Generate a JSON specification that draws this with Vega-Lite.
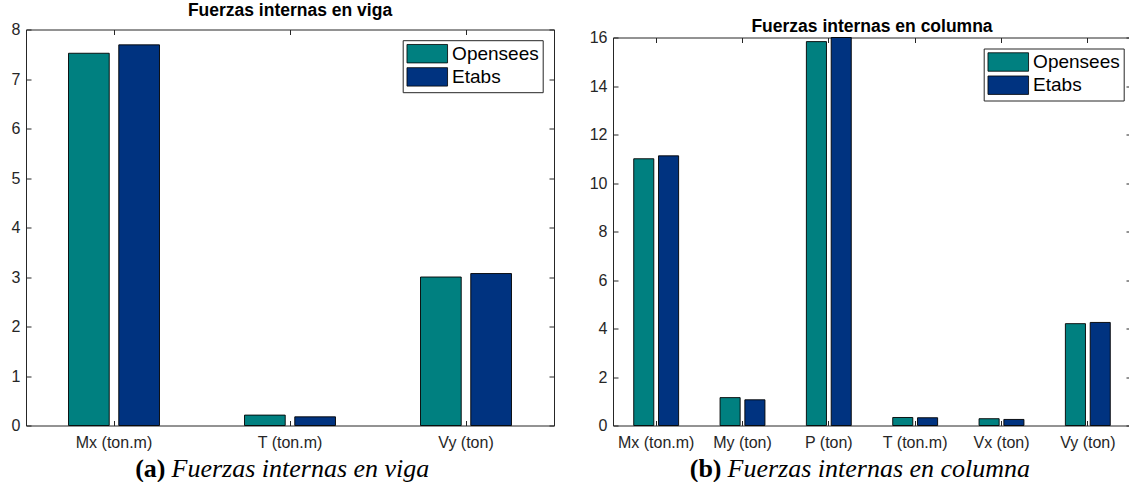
{
  "$schema": "https://vega.github.io/schema/vega-lite/v6.json",
  "background": "white",
  "padding": {"left": 11, "top": 1.5, "right": 0, "bottom": 0},
  "datasets": {
    "viga": [
      {"fuerza": "Mx (ton.m)", "serie": "Opensees", "valor": 7.52},
      {"fuerza": "Mx (ton.m)", "serie": "Etabs", "valor": 7.69},
      {"fuerza": "T (ton.m)", "serie": "Opensees", "valor": 0.21},
      {"fuerza": "T (ton.m)", "serie": "Etabs", "valor": 0.175},
      {"fuerza": "Vy (ton)", "serie": "Opensees", "valor": 3.0},
      {"fuerza": "Vy (ton)", "serie": "Etabs", "valor": 3.07}
    ],
    "columna": [
      {"fuerza": "Mx (ton.m)", "serie": "Opensees", "valor": 11.0},
      {"fuerza": "Mx (ton.m)", "serie": "Etabs", "valor": 11.12},
      {"fuerza": "My (ton)", "serie": "Opensees", "valor": 1.15},
      {"fuerza": "My (ton)", "serie": "Etabs", "valor": 1.06},
      {"fuerza": "P (ton)", "serie": "Opensees", "valor": 15.83},
      {"fuerza": "P (ton)", "serie": "Etabs", "valor": 16.0},
      {"fuerza": "T (ton.m)", "serie": "Opensees", "valor": 0.33},
      {"fuerza": "T (ton.m)", "serie": "Etabs", "valor": 0.32},
      {"fuerza": "Vx (ton)", "serie": "Opensees", "valor": 0.28},
      {"fuerza": "Vx (ton)", "serie": "Etabs", "valor": 0.25},
      {"fuerza": "Vy (ton)", "serie": "Opensees", "valor": 4.2},
      {"fuerza": "Vy (ton)", "serie": "Etabs", "valor": 4.25}
    ]
  },
  "config": {
    "view": {"stroke": null},
    "font": "Liberation Sans",
    "axis": {
      "labelFont": "Liberation Sans", "labelFontSize": 16, "labelColor": "#262626",
      "domainColor": "#262626", "domainWidth": 1, "tickColor": "#262626", "tickWidth": 1,
      "grid": false, "labelFlush": false, "labelOverlap": false
    },
    "title": {
      "font": "Liberation Sans", "fontSize": 17.5, "fontWeight": "bold", "color": "black",
      "anchor": "middle", "frame": "group", "baseline": "bottom", "offset": 2.5
    },
    "legend": {
      "labelFont": "Liberation Sans", "labelFontSize": 19, "labelColor": "black",
      "symbolType": "M-1,-1L3.4,-1L3.4,1L-1,1Z", "symbolSize": 340,
      "symbolStrokeColor": "black", "symbolStrokeWidth": 0.8, "symbolOpacity": 1,
      "labelOffset": 25.9, "padding": 3.5, "rowPadding": 1.2,
      "strokeColor": "#262626", "fillColor": "white", "cornerRadius": 0, "labelLimit": 300
    },
    "concat": {"spacing": 34}
  },
  "resolve": {
    "legend": {"color": "independent"},
    "scale": {"color": "independent", "xOffset": "independent", "x": "independent", "y": "independent"}
  },
  "hconcat": [
    {
      "width": 528, "height": 396,
      "title": {"text": "Fuerzas internas en viga"},
      "data": {"name": "viga"},
      "resolve": {"axis": {"x": "independent", "y": "independent"}},
      "layer": [
        {
          "mark": {"type": "bar", "stroke": "black", "strokeWidth": 0.9},
          "encoding": {
            "x": {"field": "fuerza", "type": "nominal",
              "scale": {"domain": ["Mx (ton.m)", "T (ton.m)", "Vy (ton)"], "paddingInner": 0.483, "paddingOuter": 0.2415},
              "axis": {"orient": "bottom", "labelAngle": 0, "labelPadding": 14, "tickSize": -5,
                "title": "(a)", "titleFont": "Liberation Serif", "titleFontSize": 26, "titleFontWeight": "bold",
                "titleColor": "black", "titleAlign": "right", "titleAnchor": null, "titleX": 139, "titleY": 51,
                "titleBaseline": "alphabetic"}},
            "xOffset": {"field": "serie", "type": "nominal",
              "scale": {"domain": ["Opensees", "Etabs"], "paddingInner": 0.19, "paddingOuter": 0}},
            "y": {"field": "valor", "type": "quantitative",
              "scale": {"domain": [0, 8], "nice": false},
              "axis": {"orient": "left", "values": [0, 1, 2, 3, 4, 5, 6, 7, 8], "tickSize": -5, "labelPadding": 11, "title": null}},
            "color": {"field": "serie", "type": "nominal",
              "scale": {"domain": ["Opensees", "Etabs"], "range": ["#008080", "#003380"]},
              "legend": {"orient": "none", "legendX": 376.7, "legendY": 10.7, "title": null}}
          }
        },
        {
          "mark": {"type": "point", "opacity": 0},
          "encoding": {
            "x": {"field": "fuerza", "type": "nominal",
              "scale": {"domain": ["Mx (ton.m)", "T (ton.m)", "Vy (ton)"], "paddingInner": 0.483, "paddingOuter": 0.2415},
              "axis": {"orient": "top", "labels": false, "tickSize": -5, "title": null}},
            "y": {"field": "valor", "type": "quantitative",
              "scale": {"domain": [0, 8], "nice": false},
              "axis": {"orient": "right", "labels": false, "values": [0, 1, 2, 3, 4, 5, 6, 7, 8], "tickSize": -5, "title": null}}
          }
        },
        {
          "mark": {"type": "point", "opacity": 0},
          "encoding": {
            "x": {"field": "fuerza", "type": "nominal",
              "scale": {"domain": ["Mx (ton.m)", "T (ton.m)", "Vy (ton)"], "paddingInner": 0.483, "paddingOuter": 0.2415},
              "axis": {"orient": "bottom", "labels": false, "ticks": false, "domain": false,
                "title": "Fuerzas internas en viga", "titleFont": "Liberation Serif", "titleFontSize": 26,
                "titleFontWeight": "normal", "titleFontStyle": "italic", "titleColor": "black",
                "titleAlign": "left", "titleAnchor": null, "titleX": 145, "titleY": 51, "titleBaseline": "alphabetic"}},
            "y": {"field": "valor", "type": "quantitative", "scale": {"domain": [0, 8], "nice": false}, "axis": null}
          }
        }
      ]
    },
    {
      "width": 518, "height": 396,
      "title": {"text": "Fuerzas internas en columna", "offset": -5.5},
      "data": {"name": "columna"},
      "resolve": {"axis": {"x": "independent", "y": "independent"}},
      "layer": [
        {
          "mark": {"type": "bar", "stroke": "black", "strokeWidth": 0.9},
          "encoding": {
            "x": {"field": "fuerza", "type": "nominal",
              "scale": {"domain": ["Mx (ton.m)", "My (ton)", "P (ton)", "T (ton.m)", "Vx (ton)", "Vy (ton)"], "paddingInner": 0.48, "paddingOuter": 0.24},
              "axis": {"orient": "bottom", "labelAngle": 0, "labelPadding": 14, "tickSize": -5,
                "title": "(b)", "titleFont": "Liberation Serif", "titleFontSize": 26, "titleFontWeight": "bold",
                "titleColor": "black", "titleAlign": "right", "titleAnchor": null, "titleX": 108, "titleY": 51,
                "titleBaseline": "alphabetic"}},
            "xOffset": {"field": "serie", "type": "nominal",
              "scale": {"domain": ["Opensees", "Etabs"], "paddingInner": 0.19, "paddingOuter": 0}},
            "y": {"field": "valor", "type": "quantitative",
              "scale": {"domain": [0, 16], "nice": false, "range": [396, 8]},
              "axis": {"orient": "left", "values": [0, 2, 4, 6, 8, 10, 12, 14, 16], "tickSize": -5, "labelPadding": 11, "title": null}},
            "color": {"field": "serie", "type": "nominal",
              "scale": {"domain": ["Opensees", "Etabs"], "range": ["#008080", "#003380"]},
              "legend": {"orient": "none", "legendX": 370.7, "legendY": 19, "title": null}}
          }
        },
        {
          "mark": {"type": "point", "opacity": 0},
          "encoding": {
            "x": {"field": "fuerza", "type": "nominal",
              "scale": {"domain": ["Mx (ton.m)", "My (ton)", "P (ton)", "T (ton.m)", "Vx (ton)", "Vy (ton)"], "paddingInner": 0.48, "paddingOuter": 0.24},
              "axis": {"orient": "top", "offset": -8, "labels": false, "tickSize": -5, "title": null}},
            "y": {"field": "valor", "type": "quantitative",
              "scale": {"domain": [0, 16], "nice": false, "range": [396, 8]},
              "axis": {"orient": "right", "labels": false, "values": [0, 2, 4, 6, 8, 10, 12, 14, 16], "tickSize": -5, "title": null}}
          }
        },
        {
          "mark": {"type": "point", "opacity": 0},
          "encoding": {
            "x": {"field": "fuerza", "type": "nominal",
              "scale": {"domain": ["Mx (ton.m)", "My (ton)", "P (ton)", "T (ton.m)", "Vx (ton)", "Vy (ton)"], "paddingInner": 0.48, "paddingOuter": 0.24},
              "axis": {"orient": "bottom", "labels": false, "ticks": false, "domain": false,
                "title": "Fuerzas internas en columna", "titleFont": "Liberation Serif", "titleFontSize": 26,
                "titleFontWeight": "normal", "titleFontStyle": "italic", "titleColor": "black",
                "titleAlign": "left", "titleAnchor": null, "titleX": 114, "titleY": 51, "titleBaseline": "alphabetic"}},
            "y": {"field": "valor", "type": "quantitative", "scale": {"domain": [0, 16], "nice": false, "range": [396, 8]}, "axis": null}
          }
        }
      ]
    }
  ]
}
